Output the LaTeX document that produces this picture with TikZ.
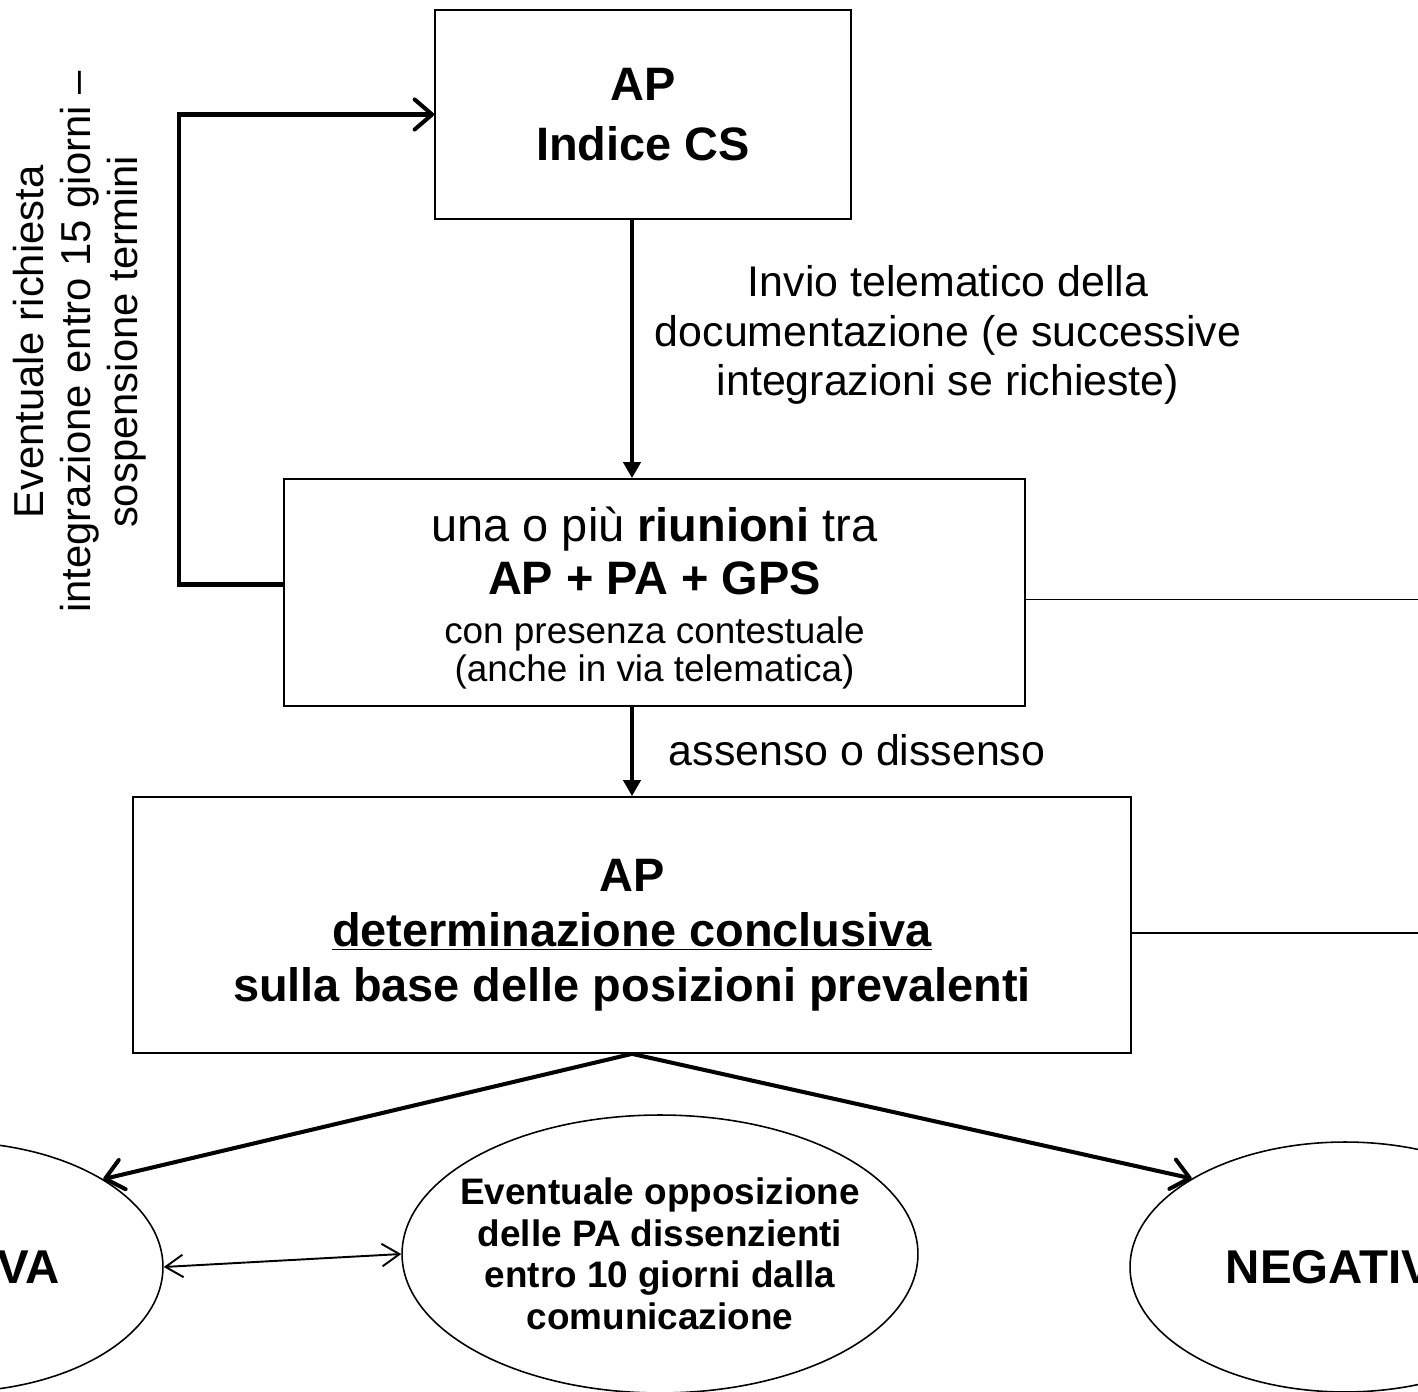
\documentclass[tikz,border=0pt]{standalone}
\usepackage{fontspec}
\setmainfont{Liberation Sans}
\usetikzlibrary{shapes.geometric,arrows.meta}

\begin{document}
\begin{tikzpicture}[x=0.02cm,y=-0.02cm,
	casella/.style={draw,line width=1pt,align=center,inner sep=0pt},
	ovale/.style={draw,ellipse,line width=0.9pt,inner sep=0pt},
	ovaletesto/.style={font=\bfseries\fontsize{21}{23.6}\selectfont,align=center},
	etichetta/.style={align=center,font=\fontsize{24.4}{28.3}\selectfont},
	freccia/.style={line width=2.5pt,-{Triangle[length=3.2mm,width=3.4mm]}},
	freccialarga/.style={line width=2.3pt,-{Straight Barb[length=3.5mm,width=6mm,round]}},
	doppia/.style={line width=1.1pt,{Straight Barb[length=3.5mm,width=4.5mm]}-{Straight Barb[length=3.5mm,width=4.5mm]}}]
		\useasboundingbox (0,0) rectangle (1418,1392);
		\clip (0,0) rectangle (1418,1392);
		% caselle
		\node[casella,minimum width=8.32cm,minimum height=4.18cm,font=\bfseries\fontsize{26.7}{34}\selectfont] (indice) at (643,114.5) {AP\\ Indice CS};
		\node[casella,minimum width=14.82cm,minimum height=4.54cm,font=\fontsize{26.7}{30}\selectfont] (riunione) at (654.5,592.5)
			{\rule{0pt}{26pt}una o più \textbf{riunioni} tra\\ \textbf{AP + PA + GPS}\\[-1.7pt] {\fontsize{21}{21.5}\selectfont con presenza contestuale}\\[-8.5pt] {\fontsize{21}{21.5}\selectfont (anche in via telematica)}};
		\node[casella,minimum width=19.96cm,minimum height=5.12cm,font=\bfseries\fontsize{26.7}{31.2}\selectfont] (determina) at (632,925)
			{\rule{0pt}{30pt}AP\\ \underline{determinazione conclusiva}\\ sulla base delle posizioni prevalenti};
		% esiti
		\node[ovale,minimum width=8.48cm,minimum height=5cm,label={[ovaletesto,font=\bfseries\fontsize{27}{30}\selectfont]center:POSITIVA}] (positiva) at (-49,1267) {};
		\node[ovale,minimum width=10.32cm,minimum height=5.56cm,label={[ovaletesto]center:{Eventuale opposizione\\ delle PA dissenzienti\\ entro 10 giorni dalla\\ comunicazione}}] (opposizione) at (660,1254) {};
		\node[ovale,minimum width=8.6cm,minimum height=5cm,label={[ovaletesto,font=\bfseries\fontsize{27}{30}\selectfont]center:NEGATIVA}] (negativa) at (1345,1267) {};
		% testi
		\node[etichetta] (invio) at (948,335) {Invio telematico della\\ documentazione (e successive\\ integrazioni se richieste)};
		\node[etichetta] (assenso) at (857,750) {assenso o dissenso};
		\node[rotate=90,align=center,font=\fontsize{23.8}{26.7}\selectfont] (nota) at (80,342) {Eventuale richiesta\\ integrazione entro 15 giorni –\\ sospensione termini};
		% frecce
		\draw[freccia] (indice.south -| determina.north) -- (riunione.north -| determina.north);
		\draw[freccia] (riunione.south -| determina.north) -- (determina.north);
		\draw[freccialarga,line join=miter] ([yshift=0.16cm]riunione.west) -- ++(-104,0) |- (indice.west);
		\draw[freccialarga] (determina.south) -- (positiva.30);
		\draw[freccialarga] (determina.south) -- (negativa.150);
		\draw[doppia] (positiva.east) -- (opposizione.west);
		% linee verso destra
		\coordinate (margine) at (1418,0);
		\coordinate (r1) at ([yshift=-0.14cm]riunione.east);
		\coordinate (r2) at ([yshift=-0.16cm]determina.east);
		\draw[line width=1.1pt] (r1) -- (r1 -| margine);
		\draw[line width=1.1pt] (r2) -- (r2 -| margine);
\end{tikzpicture}
\end{document}
